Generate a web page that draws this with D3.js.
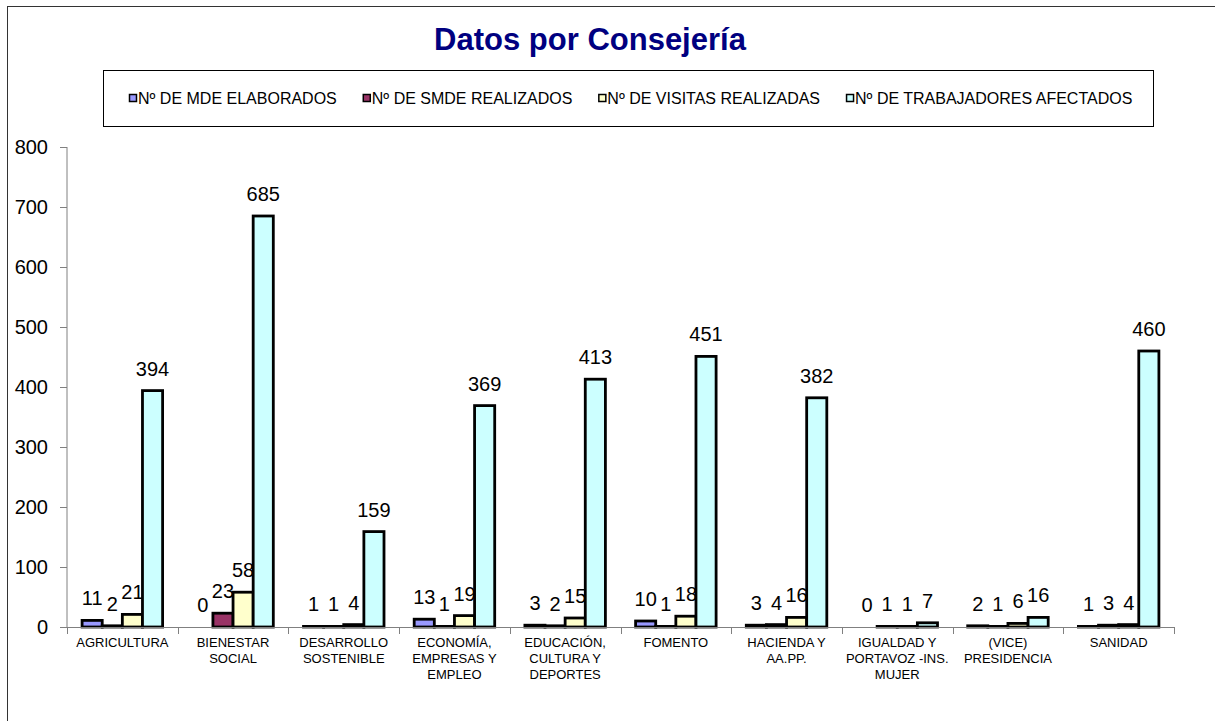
<!DOCTYPE html>
<html><head><meta charset="utf-8">
<script src="https://cdn.jsdelivr.net/npm/d3@7"></script>
<style>body{margin:0;background:#fff}svg{display:block;font-family:"Liberation Sans",Arial,sans-serif}</style>
</head><body><svg id="c" width="1215" height="721"></svg>
<script>
const categories = [
  ["AGRICULTURA"],
  ["BIENESTAR","SOCIAL"],
  ["DESARROLLO","SOSTENIBLE"],
  ["ECONOMÍA,","EMPRESAS Y","EMPLEO"],
  ["EDUCACIÓN,","CULTURA Y","DEPORTES"],
  ["FOMENTO"],
  ["HACIENDA Y","AA.PP."],
  ["IGUALDAD Y","PORTAVOZ -INS.","MUJER"],
  ["(VICE)","PRESIDENCIA"],
  ["SANIDAD"]
];
const seriesNames = ["Nº DE MDE ELABORADOS","Nº DE SMDE REALIZADOS","Nº DE VISITAS REALIZADAS","Nº DE TRABAJADORES AFECTADOS"];
const mde = [11,0,1,13,3,10,3,0,2,1];
const smde = [2,23,1,1,2,1,4,1,1,3];
const visitas = [21,58,4,19,15,18,16,1,6,4];
const trabajadores = [394,685,159,369,413,451,382,7,16,460];
const yTicks = [0,100,200,300,400,500,600,700,800];
const colors = ["#9999FF","#993366","#FFFFCC","#CCFFFF"];
const series = [mde,smde,visitas,trabajadores];

const svg = d3.select("#c");
// outer chart border
svg.append("rect").attr("x",7.5).attr("y",6.5).attr("width",1215).attr("height",721)
  .attr("fill","#fff").attr("stroke","#333");

svg.append("text").attr("x",590).attr("y",50).attr("text-anchor","middle")
  .attr("font-size",31).attr("font-weight","bold").attr("fill","#000080")
  .text("Datos por Consejería");

// legend
const lg = svg.append("g");
lg.append("rect").attr("x",103.5).attr("y",70.5).attr("width",1050).attr("height",56)
  .attr("fill","#fff").attr("stroke","#000");
let lx = 129;
seriesNames.forEach((n,i)=>{
  lg.append("rect").attr("x",lx+0.5).attr("y",94.5).attr("width",7).attr("height",7)
    .attr("fill",colors[i]).attr("stroke","#000").attr("stroke-width",1.5);
  const t = lg.append("text").attr("x",lx+9).attr("y",104).attr("font-size",16).text(n);
  lx += 9 + t.node().getComputedTextLength() + 26;
});

const x0 = d3.scaleBand().domain(d3.range(categories.length)).range([67,1174]);
const bw = x0.bandwidth()/5.5;
const x1 = d3.scaleBand().domain(d3.range(4)).range([bw*0.75, bw*4.75]);
const y = d3.scaleLinear().domain([0,800]).range([627,147]);

// y axis
const ya = svg.append("g").attr("transform","translate(67,0)")
  .call(d3.axisLeft(y).tickValues(yTicks).tickSize(7).tickPadding(12).tickFormat(d3.format("d")));
ya.selectAll("path,line").attr("stroke","#808080");
ya.selectAll("text").attr("font-size",20).attr("fill","#000").attr("font-family","Liberation Sans,Arial");
ya.select(".domain").attr("d","M0,147V627");

// bars
const g = svg.append("g");
categories.forEach((c,ci)=>{
  series.forEach((s,si)=>{
    const v = s[ci];
    const bx = x0(ci)+x1(si);
    if (v>0) g.append("rect").attr("x",bx).attr("y",y(v)).attr("width",x1.bandwidth())
      .attr("height",y(0)-y(v)).attr("fill",colors[si]).attr("stroke","#000").attr("stroke-width",2.8);
    g.append("text").attr("x",bx+x1.bandwidth()/2).attr("y",y(v)-15).attr("text-anchor","middle")
      .attr("font-size",20).text(v);
  });
});

// x axis
const xa = svg.append("g");
xa.append("line").attr("x1",67).attr("x2",1174).attr("y1",627.5).attr("y2",627.5).attr("stroke","#808080");
d3.range(categories.length+1).forEach(i=>{
  const xx = Math.round(67 + i*x0.bandwidth())+0.5;
  xa.append("line").attr("x1",xx).attr("x2",xx).attr("y1",627).attr("y2",634).attr("stroke","#808080");
});
categories.forEach((c,ci)=>{
  const t = xa.append("text").attr("text-anchor","middle").attr("font-size",13);
  c.forEach((ln,li)=>{
    t.append("tspan").attr("x",x0(ci)+x0.bandwidth()/2).attr("y",647+li*16).text(ln);
  });
});
</script></body></html>
